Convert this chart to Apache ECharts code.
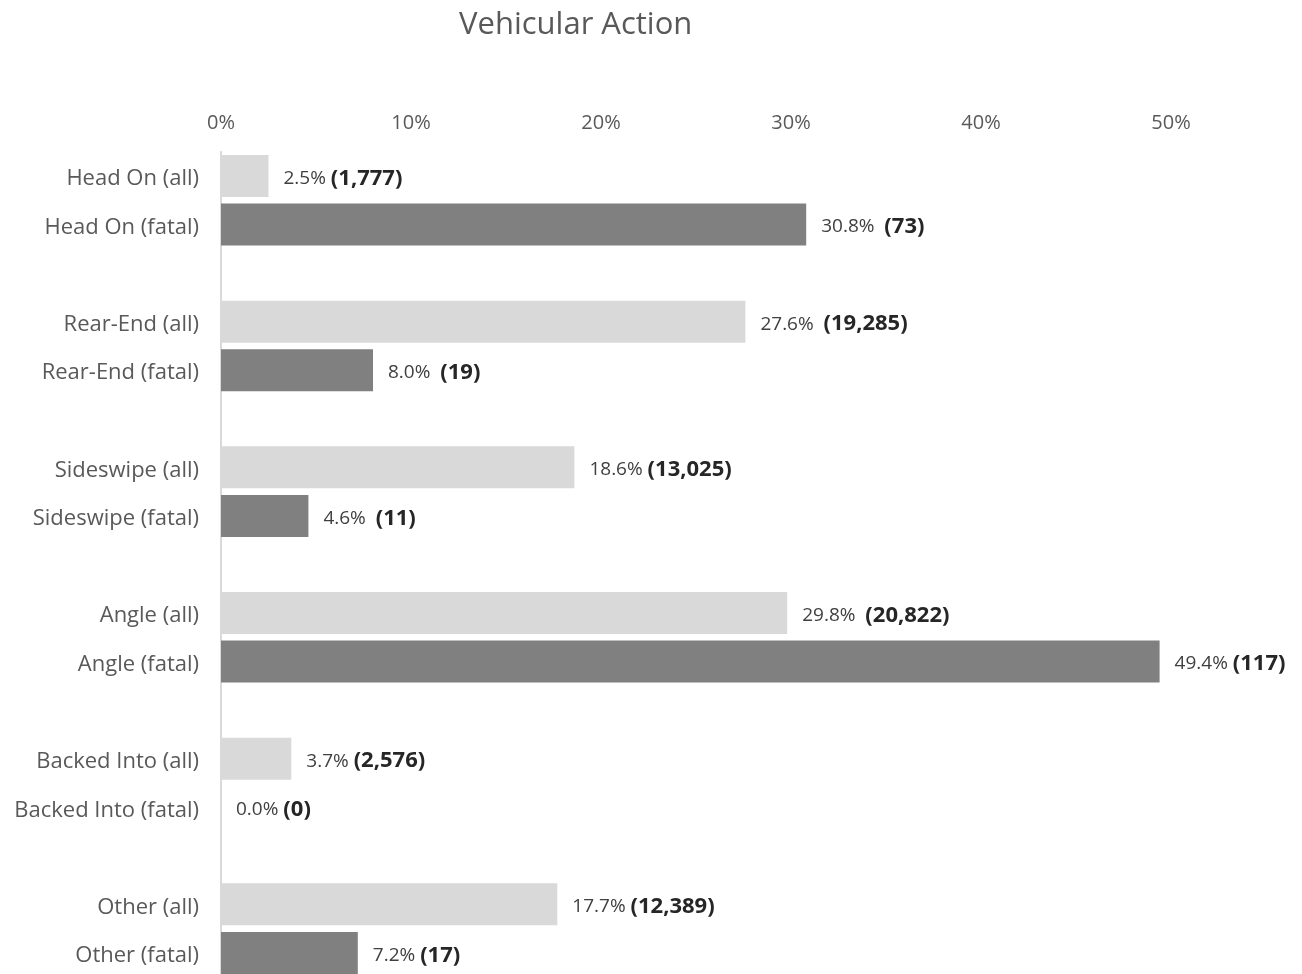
<!DOCTYPE html>
<html>
<head>
<meta charset="utf-8">
<style>html,body{margin:0;padding:0;background:#fff}#c{width:1302px;height:974px}</style>
<script src="https://cdn.jsdelivr.net/npm/echarts@6/dist/echarts.min.js"></script>
</head>
<body>
<div id="c"></div>
<script>
const categories = ['Head On (all)','Head On (fatal)','',
  'Rear-End (all)','Rear-End (fatal)','',
  'Sideswipe (all)','Sideswipe (fatal)','',
  'Angle (all)','Angle (fatal)','',
  'Backed Into (all)','Backed Into (fatal)','',
  'Other (all)','Other (fatal)'];
const percents = [2.5,30.8,null,27.6,8.0,null,18.6,4.6,null,29.8,49.4,null,3.7,0.0,null,17.7,7.2];
const counts = ['1,777','73',null,'19,285','19',null,'13,025','11',null,'20,822','117',null,'2,576','0',null,'12,389','17'];
const kinds = ['all','fatal',null,'all','fatal',null,'all','fatal',null,'all','fatal',null,'all','fatal',null,'all','fatal'];
const wideGap = [false,true,false,true,true,false,false,true,false,true,false,false,false,false,false,false,false];
const tickLabels = ['0%','10%','20%','30%','40%','50%'];

const colors = {all:'#d9d9d9', fatal:'#808080'};
const FONT = '"Open Sans", "Noto Sans", sans-serif';

const data = percents.map((v,i) => v === null ? null : {
  value: v,
  itemStyle: {color: colors[kinds[i]]},
  label: {
    show: true,
    formatter: '{p|' + v.toFixed(1) + '%}' + (wideGap[i] ? '{s|  }' : '{s| }') + '{b|(' + counts[i] + ')}'
  }
});

const chart = echarts.init(document.getElementById('c'));
chart.setOption({
  animation: false,
  title: {
    text: 'Vehicular Action',
    left: 454, top: 5,
    textStyle: {fontFamily: FONT, fontSize: 31, fontWeight: 'normal', color: '#595959'}
  },
  grid: {left: 221, width: 950, top: 151.7, height: 825.5, containLabel: false, outerBoundsMode: 'none'},
  xAxis: {
    type: 'value', position: 'top', min: 0, max: 50, interval: 10,
    axisLine: {show: false}, axisTick: {show: false}, splitLine: {show: false},
    axisLabel: {
      margin: 18, fontFamily: FONT, fontSize: 20, color: '#595959',
      formatter: (v) => tickLabels[Math.round(v/10)]
    }
  },
  yAxis: {
    type: 'category', inverse: true, data: categories,
    axisLine: {show: true, lineStyle: {color: '#d9d9d9', width: 2}},
    axisTick: {show: false},
    axisLabel: {
      margin: 22,
      formatter: (v) => v ? '{a|' + v + '}' : '',
      rich: {a: {fontFamily: FONT, fontSize: 22, color: '#595959', padding: [6, 0, 0, 0]}}
    }
  },
  series: [{
    type: 'bar', data: data, barWidth: 42,
    label: {
      show: true, position: 'right', distance: 15, padding: [5, 0, 0, 0],
      rich: {
        p: {fontFamily: FONT, fontSize: 19, color: '#404040'},
        s: {fontFamily: FONT, fontSize: 19, color: '#404040'},
        b: {fontFamily: FONT, fontSize: 22, fontWeight: 'bold', color: '#262626'}
      }
    }
  }]
});
</script>
</body>
</html>
